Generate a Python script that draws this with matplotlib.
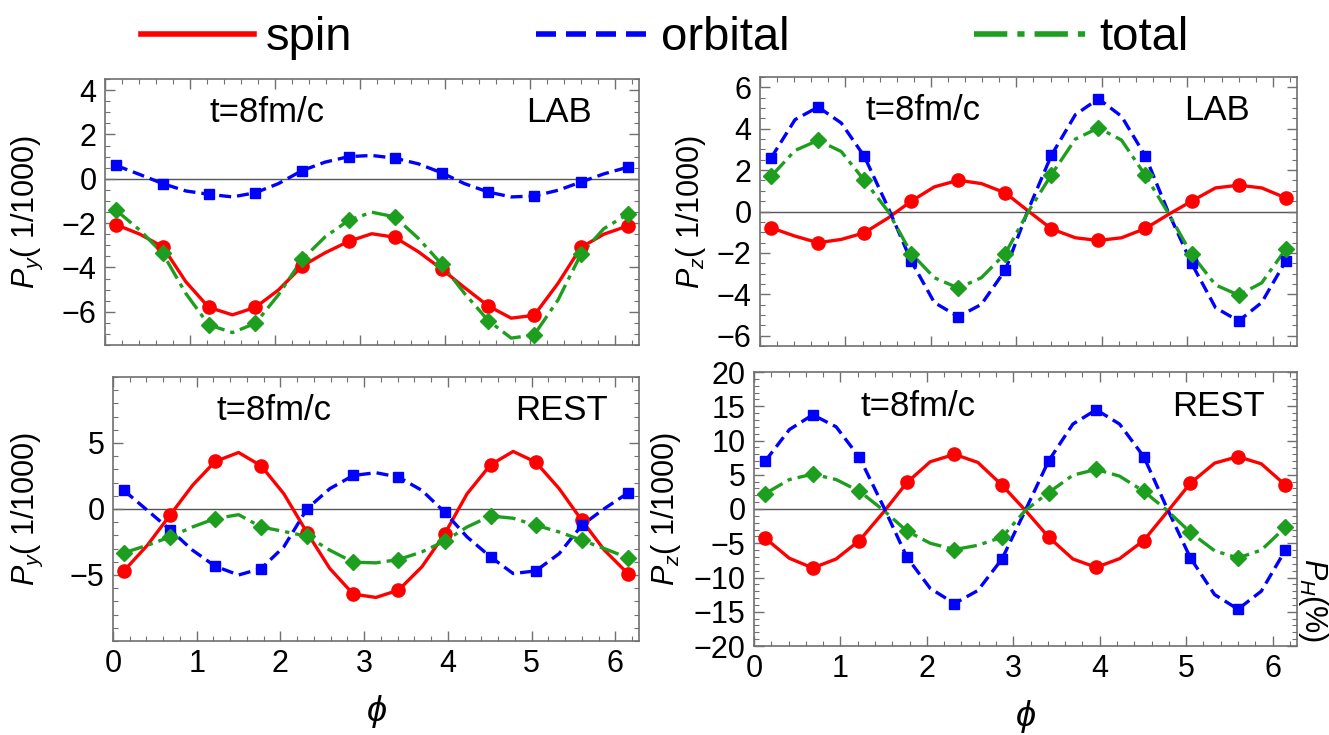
import numpy as np
import matplotlib
matplotlib.use("Agg")
import matplotlib.pyplot as plt
from matplotlib.lines import Line2D
from matplotlib.ticker import MultipleLocator, FixedLocator

plt.rcParams['font.family'] = ['Liberation Sans', 'DejaVu Sans']
plt.rcParams['mathtext.fontset'] = 'custom'
plt.rcParams['mathtext.rm'] = 'Liberation Sans'
plt.rcParams['mathtext.it'] = 'Liberation Sans:italic'

# azimuthal angle grid; every other point carries a marker
PHI = [0.13, 0.41, 0.68, 0.95, 1.22, 1.50, 1.77, 2.04, 2.32, 2.59, 2.87, 3.14,
       3.41, 3.69, 3.96, 4.23, 4.51, 4.78, 5.05, 5.33, 5.60, 5.87, 6.15]

# P_y, lab frame
py_lab_spin = [-2.07, -2.50, -3.07, -4.64, -5.80, -6.14, -5.80, -5.02, -3.94, -3.34, -2.82, -2.48,
               -2.64, -3.30, -4.07, -4.91, -5.74, -6.29, -6.16, -4.72, -3.10, -2.50, -2.13]
py_lab_orbital = [0.60, 0.19, -0.22, -0.55, -0.70, -0.82, -0.63, -0.22, 0.37, 0.75, 1.00, 1.05,
                  0.93, 0.67, 0.27, -0.22, -0.60, -0.82, -0.78, -0.52, -0.15, 0.22, 0.52]
py_lab_total = [-1.42, -2.32, -3.37, -5.17, -6.59, -6.94, -6.52, -5.24, -3.64, -2.62, -1.87, -1.51,
                -1.72, -2.70, -3.85, -5.17, -6.40, -7.19, -7.04, -5.47, -3.40, -2.25, -1.60]

# P_z, lab frame
pz_lab_spin = [-0.79, -1.19, -1.51, -1.35, -1.03, -0.31, 0.50, 1.19, 1.51, 1.35, 0.90, 0.02,
               -0.84, -1.27, -1.40, -1.27, -0.82, -0.14, 0.50, 1.14, 1.27, 1.14, 0.66]
pz_lab_orbital = [2.59, 4.44, 5.05, 4.28, 2.67, 0.18, -2.40, -4.40, -5.08, -4.49, -2.83, 0.10,
                  2.72, 4.68, 5.45, 4.60, 2.67, -0.06, -2.51, -4.65, -5.29, -4.40, -2.40]
pz_lab_total = [1.70, 2.95, 3.44, 2.90, 1.51, 0.00, -2.03, -3.20, -3.70, -3.20, -2.03, 0.00,
                1.78, 3.50, 4.04, 3.45, 1.74, -0.10, -2.07, -3.55, -4.04, -3.45, -1.83]

# P_y, rest frame
py_rest_spin = [-4.69, -2.75, -0.48, 1.79, 3.60, 4.28, 3.27, 1.16, -1.81, -4.51, -6.45, -6.70,
                -6.15, -4.38, -1.91, 1.16, 3.35, 4.36, 3.55, 1.54, -0.86, -3.12, -4.89]
py_rest_orbital = [1.41, -0.10, -1.56, -3.12, -4.33, -5.00, -4.51, -2.87, 0.03, 1.54, 2.54, 2.75,
                   2.42, 1.41, -0.23, -2.12, -3.63, -4.89, -4.69, -3.38, -1.23, 0.03, 1.21]
py_rest_total = [-3.32, -2.75, -2.12, -1.36, -0.73, -0.43, -1.36, -1.70, -2.07, -3.12, -4.03, -4.08,
                 -3.83, -3.25, -2.44, -1.36, -0.53, -0.70, -1.23, -1.74, -2.37, -3.00, -3.70]

# P_z, rest frame
pz_rest_spin = [-4.26, -7.20, -8.61, -7.30, -4.60, -0.44, 3.87, 6.90, 7.98, 6.80, 3.48, -0.20,
                -4.11, -7.30, -8.52, -7.25, -4.60, -0.44, 3.77, 6.70, 7.64, 6.60, 3.48]
pz_rest_orbital = [7.00, 11.60, 13.75, 12.00, 7.54, 0.30, -7.05, -11.60, -13.80, -11.90, -7.29, -0.20,
                   7.05, 12.40, 14.49, 12.40, 7.64, 0.10, -7.15, -12.50, -14.63, -12.00, -5.97]
pz_rest_total = [2.25, 4.30, 5.09, 4.30, 2.59, -0.20, -3.23, -5.00, -5.92, -5.30, -4.11, -0.20,
                 2.40, 4.94, 5.78, 4.80, 2.59, -0.20, -3.43, -6.10, -7.15, -6.00, -2.64]

SERIES = ['spin', 'orbital', 'total']
RED, BLUE, GREEN = '#ff0000', '#0000ff', '#1e9e1e'
STYLE = {
    'spin': dict(color=RED, ls='-', marker='o', ms=9.5),
    'orbital': dict(color=BLUE, ls=(0, (3.6, 1.8)), marker='s', ms=6.5),
    'total': dict(color=GREEN, ls=(0, (6.0, 1.8, 1.3, 1.8)), marker='D', ms=8),
}
FRAME = '#707070'
FS = 22


def draw_panel(ax, curves, ylim, yticks, yminor, ylabel, tag, label_x, bottom_labels):
    ax.axhline(0, color='#555555', lw=1.0, zorder=1)
    phi = np.array(PHI)
    for name, vals in zip(SERIES, curves):
        st = STYLE[name]
        vals = np.array(vals)
        ax.plot(phi, vals, color=st['color'], ls=st['ls'], lw=2.4, zorder=2)
        ax.plot(phi[::2], vals[::2], ls='none', marker=st['marker'], ms=st['ms'],
                color=st['color'], mec=st['color'], zorder=3)
    ax.set_xlim(0, 2 * np.pi)
    ax.set_ylim(*ylim)
    ax.xaxis.set_major_locator(MultipleLocator(1))
    ax.xaxis.set_minor_locator(MultipleLocator(0.2))
    ax.yaxis.set_major_locator(FixedLocator(yticks))
    ax.yaxis.set_minor_locator(MultipleLocator(yminor))
    ax.tick_params(which='both', direction='in', top=True, right=True,
                   color=FRAME, labelsize=FS, pad=6)
    ax.tick_params(which='major', length=7, width=1)
    ax.tick_params(which='minor', length=3.5, width=0.8)
    if not bottom_labels:
        ax.tick_params(labelbottom=False)
    else:
        ax.set_xlabel(r'$\phi$', fontsize=26, labelpad=10)
    for sp in ax.spines.values():
        sp.set_color(FRAME)
        sp.set_linewidth(1.2)
    ax.set_ylabel(ylabel, fontsize=FS)
    ax.yaxis.set_label_coords(label_x, 0.5)
    ax.text(0.196, 0.875, 't=8fm/c', transform=ax.transAxes, fontsize=25,
            ha='left', va='center')
    ax.text(0.912 if tag == 'LAB' else 0.94, 0.875, tag, transform=ax.transAxes,
            fontsize=25, ha='right', va='center')


W, H = 1329, 735
fig = plt.figure(figsize=(W / 100, H / 100), dpi=100)


def box(left, top, right, bottom):
    return [left / W, 1 - bottom / H, (right - left) / W, (bottom - top) / H]


ax_tl = fig.add_axes(box(105, 79, 639, 345))
ax_tr = fig.add_axes(box(760, 77, 1297, 346))
ax_bl = fig.add_axes(box(113, 377, 639, 641))
ax_br = fig.add_axes(box(754, 372, 1297, 646))

draw_panel(ax_tl, [py_lab_spin, py_lab_orbital, py_lab_total], (-7.5, 4.5),
           [-6, -4, -2, 0, 2, 4], 0.5, r'$P_y$( 1/1000)', 'LAB', -0.112, False)
draw_panel(ax_tr, [pz_lab_spin, pz_lab_orbital, pz_lab_total], (-6.5, 6.5),
           [-6, -4, -2, 0, 2, 4, 6], 0.5, r'$P_z$( 1/1000)', 'LAB', -0.097, False)
draw_panel(ax_bl, [py_rest_spin, py_rest_orbital, py_rest_total], (-10, 10),
           [-5, 0, 5], 1, r'$P_y$( 1/1000)', 'REST', -0.129, True)
draw_panel(ax_br, [pz_rest_spin, pz_rest_orbital, pz_rest_total], (-20, 20),
           [-20, -15, -10, -5, 0, 5, 10, 15, 20], 1, r'$P_z$( 1/1000)', 'REST', -0.131, True)

# right-hand axis title beside the lower right panel
fig.text(1313 / W, 1 - 600 / H, r'$P_H$(%)', rotation=-90, fontsize=FS,
         ha='center', va='center')

handles = [Line2D([], [], color=STYLE[n]['color'], ls=STYLE[n]['ls'], lw=4) for n in SERIES]
fig.legend(handles, SERIES, loc='upper center', bbox_to_anchor=(0.5, 1.036), ncol=3,
           frameon=False, fontsize=34, handlelength=2.4, columnspacing=3.9,
           handletextpad=0.25)

fig.savefig('out.png', dpi=100)
